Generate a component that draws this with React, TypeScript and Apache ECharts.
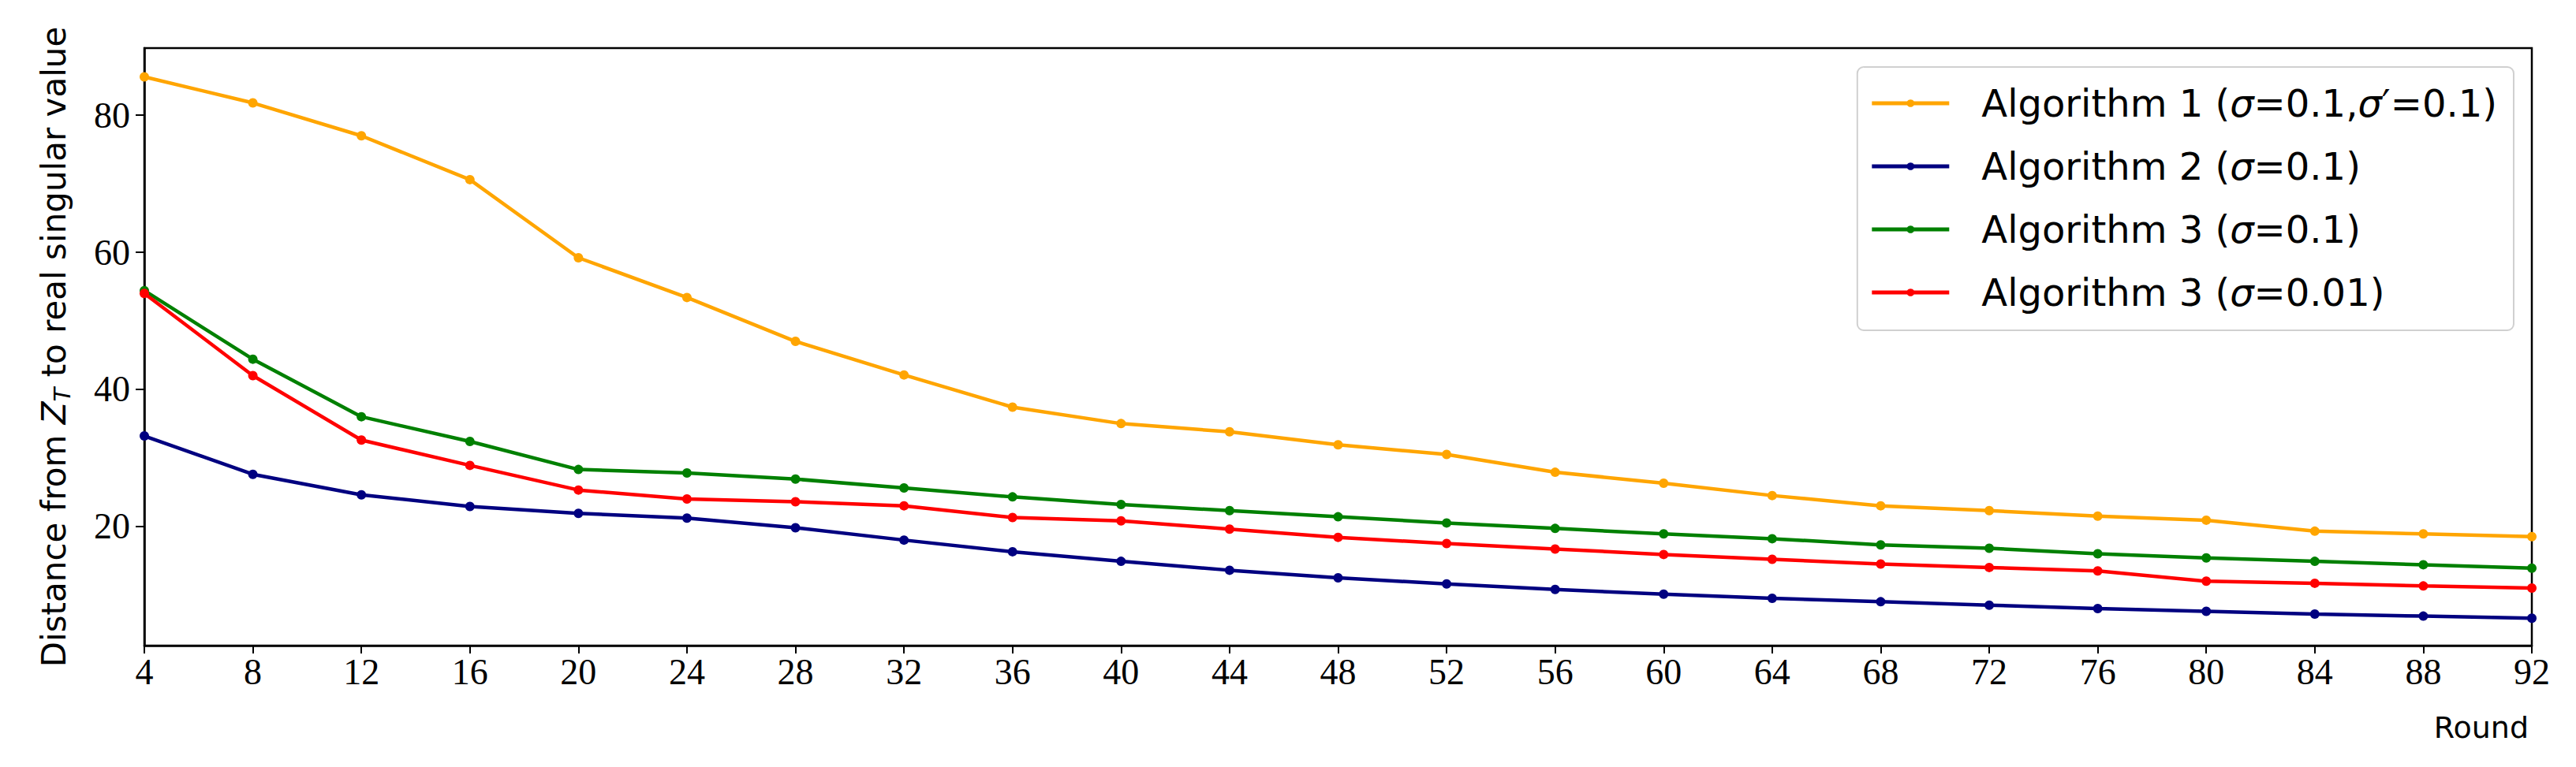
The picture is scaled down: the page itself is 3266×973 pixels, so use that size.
import React, { useEffect, useRef } from "react";
import * as echarts from "echarts";

const rounds = [4, 8, 12, 16, 20, 24, 28, 32, 36, 40, 44, 48, 52, 56, 60, 64, 68, 72, 76, 80, 84, 88, 92];

const alg1 = [85.6, 81.8, 77.0, 70.6, 59.2, 53.4, 47.0, 42.1, 37.4, 35.0, 33.8, 31.9, 30.5, 27.9, 26.3, 24.5, 23.0, 22.3, 21.5, 20.9, 19.3, 18.9, 18.5];
const alg2 = [33.2, 27.6, 24.6, 22.9, 21.9, 21.2, 19.8, 18.0, 16.3, 14.9, 13.6, 12.5, 11.6, 10.8, 10.1, 9.5, 9.0, 8.5, 8.0, 7.6, 7.2, 6.9, 6.6];
const alg3a = [54.4, 44.4, 36.0, 32.4, 28.3, 27.8, 26.9, 25.6, 24.3, 23.2, 22.3, 21.4, 20.5, 19.7, 18.9, 18.2, 17.3, 16.8, 16.0, 15.4, 14.9, 14.4, 13.9];
const alg3b = [54.0, 42.0, 32.6, 28.9, 25.3, 24.0, 23.6, 23.0, 21.3, 20.8, 19.6, 18.4, 17.5, 16.7, 15.9, 15.2, 14.5, 14.0, 13.5, 12.0, 11.7, 11.3, 11.0];

const seriesNames = [
  "Algorithm 1 (σ=0.1,σ′=0.1)",
  "Algorithm 2 (σ=0.1)",
  "Algorithm 3 (σ=0.1)",
  "Algorithm 3 (σ=0.01)",
];
const seriesColors = ["#FFA500", "#000080", "#008000", "#FF0000"];
const seriesValues = [alg1, alg2, alg3a, alg3b];

const yTicks = [20, 40, 60, 80];
const yMin = 2.6;
const yMax = 89.8;

export default function App() {
  const ref = useRef<HTMLDivElement>(null);
  useEffect(() => {
    document.body.style.margin = "0";
    const chart = echarts.init(ref.current!, null, { renderer: "svg" });
    const series = seriesNames.map((name, i) => ({
      name,
      type: "line",
      data: rounds.map((r, j) => [r, seriesValues[i][j]]),
      symbol: "circle",
      symbolSize: 12,
      showSymbol: true,
      clip: true,
      itemStyle: { color: seriesColors[i] },
      lineStyle: { color: seriesColors[i], width: 4.5 },
      z: 2,
    }));
    chart.setOption({
      animation: false,
      backgroundColor: "#ffffff",
      grid: {
        left: 183,
        right: 56,
        top: 61,
        bottom: 154,
        show: true,
        borderColor: "#000",
        borderWidth: 2.5,
        backgroundColor: "transparent",
      },
      legend: {
        orient: "vertical",
        right: 79,
        top: 85,
        align: "left",
        itemWidth: 98,
        itemHeight: 12,
        itemGap: 24,
        padding: [18, 21, 20, 16],
        borderColor: "#d0d0d0",
        borderWidth: 2,
        borderRadius: 8,
        backgroundColor: "rgba(255,255,255,0.8)",
        lineStyle: { width: 5 },
        formatter: (name: string) => name.replace(/σ/g, "{i|σ}"),
        textStyle: {
          fontFamily: "DejaVu Sans",
          fontSize: 48,
          lineHeight: 56,
          color: "#000",
          padding: [0, 0, 0, 36],
          rich: {
            i: { fontFamily: "DejaVu Sans", fontStyle: "italic", fontSize: 48, lineHeight: 56, color: "#000" },
          },
        },
        data: seriesNames,
      },
      xAxis: {
        type: "value",
        min: 4,
        max: 92,
        interval: 4,
        splitLine: { show: false },
        axisLine: { show: true, onZero: false, lineStyle: { color: "#000", width: 2.5 } },
        axisTick: { show: true, length: 10, lineStyle: { color: "#000", width: 2 } },
        axisLabel: {
          fontFamily: "Liberation Serif",
          fontSize: 46,
          color: "#000",
          margin: 10,
        },
      },
      yAxis: {
        type: "value",
        min: yMin,
        max: yMax,
        splitLine: { show: false },
        axisLine: { show: true, onZero: false, lineStyle: { color: "#000", width: 2.5 } },
        axisTick: { show: true, length: 11, customValues: yTicks, lineStyle: { color: "#000", width: 2 } },
        axisLabel: {
          customValues: yTicks,
          fontFamily: "Liberation Serif",
          fontSize: 46,
          color: "#000",
          margin: 18,
        },
        name: "Distance from {z|Z}{s|T} to real singular value",
        nameLocation: "middle",
        nameRotate: 90,
        nameGap: 90,
        nameTextStyle: {
          fontFamily: "DejaVu Sans",
          fontSize: 42,
          lineHeight: 50,
          color: "#000",
          rich: {
            z: { fontFamily: "DejaVu Sans", fontStyle: "italic", fontSize: 42, lineHeight: 50, color: "#000" },
            s: { fontFamily: "DejaVu Sans", fontStyle: "italic", fontSize: 29, lineHeight: 29, verticalAlign: "bottom", color: "#000" },
          },
        },
      },
      graphic: [
        {
          type: "text",
          right: 60,
          top: 904,
          style: { text: "Round", font: "38px 'DejaVu Sans'", fill: "#000" },
        },
      ],
      series,
    });
    return () => chart.dispose();
  }, []);
  return <div ref={ref} style={{ width: 3266, height: 973 }} />;
}
